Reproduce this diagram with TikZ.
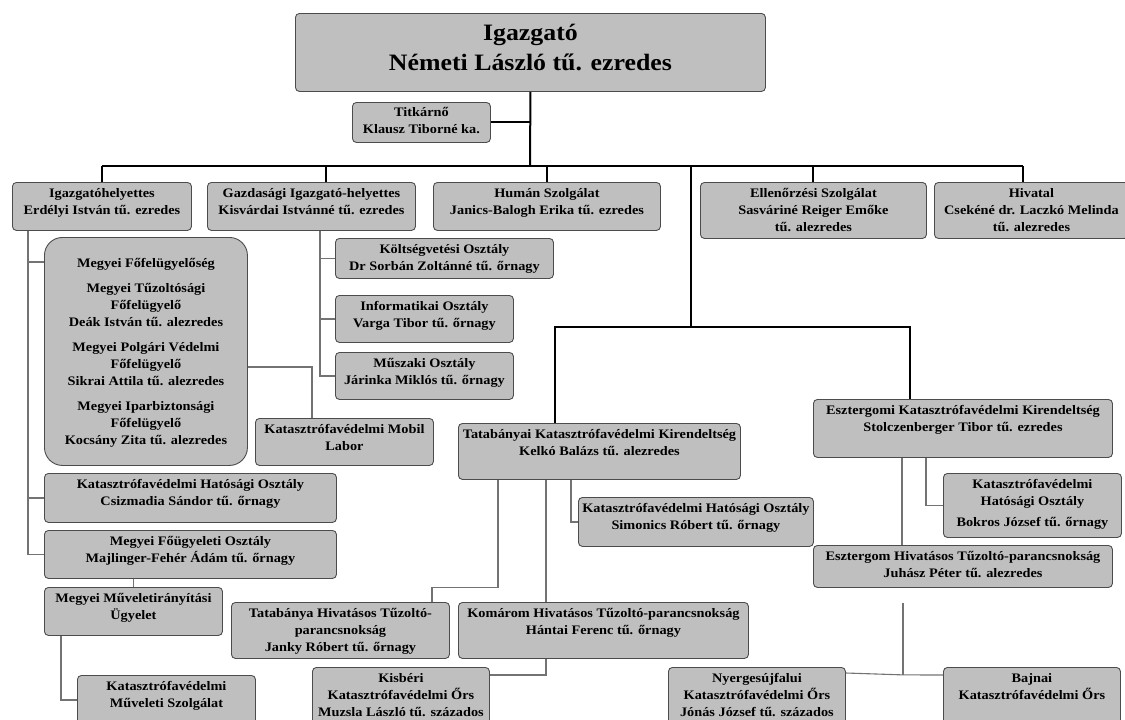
\documentclass[tikz,border=0pt]{standalone}
\usepackage{fontspec}
\setmainfont[FakeStretch=1.1]{Liberation Serif}
\usetikzlibrary{calc}

% text block of a box: [top pad]{width}{height}{lines}
\newcommand{\boxtxt}[4][6pt]{\parbox[t][#3][t]{#2}{\centering\vspace*{#1}#4}}

\begin{document}
\begin{tikzpicture}[x=1pt, y=-1pt,
    box/.style={draw=black!70, fill=black!25, line width=0.9pt, rounded corners=4pt,
      inner sep=0pt, anchor=north west, font=\bfseries\fontsize{13}{17}\selectfont},
    main/.style={line width=2pt},
    sub/.style={line width=1.1pt, black!55}]
  \useasboundingbox (0,0) rectangle (1125,720);
  \clip (0,0) rectangle (1125,720);

  % vezetes
  \node[box, font=\bfseries\fontsize{23.5}{30}\selectfont] (dir) at (295,13)
    {\boxtxt[11pt]{470pt}{78pt}{Igazgató\\Németi László tű. ezredes}};
  \node[box] (tit) at (352,102) {\boxtxt[5pt]{138pt}{40pt}{Titkárnő\\Klausz Tiborné ka.}};

  % elso szint
  \node[box] (ih) at (12,182) {\boxtxt{179pt}{48pt}{Igazgatóhelyettes\\Erdélyi István tű. ezredes}};
  \node[box] (gi) at (207,182) {\boxtxt{208pt}{48pt}{Gazdasági Igazgató-helyettes\\Kisvárdai Istvánné tű. ezredes}};
  \node[box] (hum) at (433,182) {\boxtxt{227pt}{48pt}{Humán Szolgálat\\Janics-Balogh Erika tű. ezredes}};
  \node[box] (ell) at (700,182) {\boxtxt{226pt}{56pt}{Ellenőrzési Szolgálat\\Sasváriné Reiger Emőke\\tű. alezredes}};
  \node[box] (hiv) at (934,182) {\boxtxt{194pt}{56pt}{Hivatal\\Csekéné dr. Laczkó Melinda\\tű. alezredes}};

  % gazdasagi osztalyok
  \node[box] (kolt) at (335,238) {\boxtxt{218pt}{40pt}{Költségvetési Osztály\\Dr Sorbán Zoltánné tű. őrnagy}};
  \node[box] (info) at (335,295) {\boxtxt{178pt}{47pt}{Informatikai Osztály\\Varga Tibor tű. őrnagy}};
  \node[box] (musz) at (335,352) {\boxtxt{178pt}{47pt}{Műszaki Osztály\\Járinka Miklós tű. őrnagy}};

  % igazgatohelyettes ala
  \node[box, rounded corners=18pt] (ffs) at (44,237) {\boxtxt[21pt]{203pt}{228pt}{Megyei Főfelügyelőség\\[8pt]
    Megyei Tűzoltósági\\Főfelügyelő\\Deák István tű. alezredes\\[8pt]
    Megyei Polgári Védelmi\\Főfelügyelő\\Sikrai Attila tű. alezredes\\[8pt]
    Megyei Iparbiztonsági\\Főfelügyelő\\Kocsány Zita tű. alezredes}};
  \node[box] (mob) at (255,418) {\boxtxt{178pt}{47pt}{Katasztrófavédelmi Mobil\\Labor}};
  \node[box] (csiz) at (44,473) {\boxtxt{292pt}{49pt}{Katasztrófavédelmi Hatósági Osztály\\Csizmadia Sándor tű. őrnagy}};
  \node[box] (fug) at (44,530) {\boxtxt{292pt}{48pt}{Megyei Főügyeleti Osztály\\Majlinger-Fehér Ádám tű. őrnagy}};
  \node[box] (mir) at (44,587) {\boxtxt{178pt}{48pt}{Megyei Műveletirányítási\\Ügyelet}};
  \node[box] (msz) at (77,675) {\boxtxt{178pt}{60pt}{Katasztrófavédelmi\\Műveleti Szolgálat}};

  % tatabanya
  \node[box] (tata) at (458,423) {\boxtxt{282pt}{56pt}{Tatabányai Katasztrófavédelmi Kirendeltség\\Kelkó Balázs tű. alezredes}};
  \node[box] (sim) at (578,497) {\boxtxt{235pt}{49pt}{Katasztrófavédelmi Hatósági Osztály\\Simonics Róbert tű. őrnagy}};
  \node[box] (thiv) at (231,602) {\boxtxt{218pt}{56pt}{Tatabánya Hivatásos Tűzoltó-\\parancsnokság\\Janky Róbert tű. őrnagy}};
  \node[box] (kom) at (458,602) {\boxtxt{290pt}{56pt}{Komárom Hivatásos Tűzoltó-parancsnokság\\Hántai Ferenc tű. őrnagy}};
  \node[box] (kisb) at (312,667) {\boxtxt{177pt}{60pt}{Kisbéri\\Katasztrófavédelmi Őrs\\Muzsla László tű. százados}};

  % esztergom
  \node[box] (eszt) at (813,399) {\boxtxt{299pt}{58pt}{Esztergomi Katasztrófavédelmi Kirendeltség\\Stolczenberger Tibor tű. ezredes}};
  \node[box] (bok) at (943,473) {\boxtxt{178pt}{64pt}{Katasztrófavédelmi\\Hatósági Osztály\\[4pt]Bokros József tű. őrnagy}};
  \node[box] (ehiv) at (813,545) {\boxtxt{299pt}{42pt}{Esztergom Hivatásos Tűzoltó-parancsnokság\\Juhász Péter tű. alezredes}};
  \node[box] (nyer) at (668,667) {\boxtxt{177pt}{60pt}{Nyergesújfalui\\Katasztrófavédelmi Őrs\\Jónás József tű. százados}};
  \node[box] (baj) at (943,667) {\boxtxt{177pt}{60pt}{Bajnai\\Katasztrófavédelmi Őrs}};

  % fo vonalak
  \coordinate (bus) at (530,166);
  \coordinate (gdrop) at (326,166);
  \coordinate (hdrop) at (1023,166);
  \coordinate (kbus) at (691,327);
  \coordinate (kl) at (555,327);
  \coordinate (kr) at (910,327);
  \draw[main] (dir.south) -- (bus);
  \draw[main] (tit.east) -- (tit.east -| bus);
  \draw[main] (bus -| ih.north) -- (hdrop);
  \foreach \n in {ih, hum, ell}
    \draw[main] (bus -| \n.north) -- (\n.north);
  \draw[main] (gdrop) -- (gdrop |- gi.north);
  \draw[main] (hdrop) -- (hdrop |- hiv.north);
  \draw[main] (bus -| kbus) -- (kbus);
  \draw[main] (kl |- tata.north) -- (kl) -- (kr) -- (kr |- eszt.north);

  % igazgatohelyettes
  \coordinate (il) at ($(ih.south west)+(16,0)$);
  \coordinate (ffsb) at ($(ffs.north west)+(0,25)$);
  \draw[sub] (il) |- (fug.west);
  \draw[sub] (il |- ffsb) -- (ffsb);
  \draw[sub] (il |- csiz.west) -- (csiz.west);
  \draw[sub] ($(ffs.north east)+(0,130)$) -| ($(mob.north west)+(57,0)$);
  \draw[sub] (mir.north |- fug.south) -- (mir.north);
  \draw[sub] ($(mir.south west)+(17,0)$) |- ($(msz.north west)+(0,25)$);

  % gazdasagi
  \coordinate (gl) at ($(gi.south west)+(113,0)$);
  \draw[sub] (gl) |- (musz.west);
  \draw[sub] (gl |- kolt.west) -- (kolt.west);
  \draw[sub] (gl |- info.west) -- (info.west);

  % tatabanya
  \draw[sub] ($(tata.south west)+(40,0)$) -- ++(0,108) -| ($(thiv.north west)+(201,0)$);
  \draw[sub] ($(tata.south west)+(88,0)$) -- ($(kom.north west)+(88,0)$);
  \draw[sub] ($(tata.south west)+(113,0)$) |- (sim.west);
  \draw[sub] ($(kom.south west)+(88,0)$) |- ($(kisb.north east)+(0,8)$);

  % esztergom
  \coordinate (egap) at ($(ehiv.south west)+(90,15)$);
  \coordinate (ej) at ($(egap)+(0,72)$);
  \draw[sub] ($(eszt.south west)+(113,0)$) |- (bok.west);
  \draw[sub] ($(eszt.south west)+(89,0)$) -- ($(ehiv.north west)+(89,0)$);
  \draw[sub] (egap) -- (ej);
  \draw[sub] ($(nyer.north east)+(0,6)$) -- (ej) -- ($(baj.north west)+(0,8)$);
\end{tikzpicture}
\end{document}
